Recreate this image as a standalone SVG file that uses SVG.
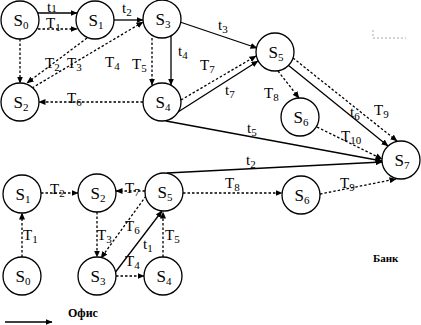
<svg xmlns="http://www.w3.org/2000/svg" width="421" height="325" viewBox="0 0 421 325">
<defs>
<marker id="ah" markerUnits="userSpaceOnUse" markerWidth="7" markerHeight="6" refX="6.5" refY="3" orient="auto">
<path d="M0,0 L7,3 L0,6 Z" fill="#000"/>
</marker>
</defs>
<style>
.n circle{fill:#fff;stroke:#000;stroke-width:1.3}
.n text{font-family:"Liberation Serif","Times New Roman",serif;font-size:17px;text-anchor:middle;fill:#000}
.sub{font-size:11px}
.s{fill:none;stroke:#000;stroke-width:1.3;marker-end:url(#ah)}
.d{fill:none;stroke:#000;stroke-width:1.3;stroke-dasharray:2.5,2;marker-end:url(#ah)}
.lb{font-family:"Liberation Serif","Times New Roman",serif;font-size:15px;fill:#000}
.lg{font-family:"Liberation Serif","Times New Roman",serif;font-weight:bold;fill:#000}
</style>
<rect width="421" height="325" fill="#fff"/>
<g id="connectors">
<line class="s" x1="37" y1="13" x2="77" y2="13"/>
<line class="d" x1="38" y1="29" x2="77" y2="29"/>
<line class="s" x1="114" y1="20" x2="143" y2="20"/>
<line class="d" x1="20" y1="39" x2="20" y2="83"/>
<line class="d" x1="87" y1="38" x2="27" y2="83"/>
<line class="d" x1="32" y1="88" x2="143" y2="22"/>
<line class="d" x1="152" y1="38" x2="152" y2="85"/>
<line class="s" x1="171" y1="36" x2="171" y2="85"/>
<line class="d" x1="143" y1="102" x2="39" y2="102"/>
<line class="s" x1="180" y1="22" x2="257" y2="48"/>
<line class="d" x1="181" y1="100" x2="256" y2="56"/>
<line class="s" x1="178" y1="112" x2="258" y2="61"/>
<line class="s" x1="166" y1="121" x2="382" y2="161"/>
<line class="d" x1="278" y1="71" x2="299" y2="98"/>
<line class="s" x1="288" y1="65" x2="388" y2="146"/>
<line class="d" x1="293" y1="58" x2="397" y2="141"/>
<line class="d" x1="317" y1="127" x2="382" y2="159"/>
<line class="s" x1="167" y1="173" x2="382" y2="162"/>
<line class="d" x1="41" y1="193" x2="78" y2="193"/>
<line class="d" x1="145" y1="191" x2="116" y2="191"/>
<line class="d" x1="183" y1="193" x2="282" y2="193"/>
<line class="d" x1="320" y1="194" x2="396" y2="179"/>
<line class="d" x1="22" y1="257" x2="22" y2="213"/>
<line class="d" x1="97" y1="212" x2="97" y2="257"/>
<line class="d" x1="146" y1="196" x2="101" y2="258"/>
<line class="s" x1="114" y1="274" x2="162" y2="211"/>
<line class="d" x1="116" y1="276" x2="144" y2="276"/>
<line class="d" x1="163" y1="257" x2="163" y2="212"/>
</g>
<g id="edge-labels">
<text class="lb" x="47" y="12" font-size="13">t<tspan class="sub" font-size="10" dy="0">1</tspan></text>
<text class="lb" x="46" y="28">T<tspan class="sub" dy="3">1</tspan></text>
<text class="lb" x="122" y="13">t<tspan class="sub" dy="3">2</tspan></text>
<text class="lb" x="45" y="68">T<tspan class="sub" dy="3">2</tspan></text>
<text class="lb" x="67" y="68">T<tspan class="sub" dy="3">3</tspan></text>
<text class="lb" x="105" y="67">T<tspan class="sub" dy="3">4</tspan></text>
<text class="lb" x="132" y="69">T<tspan class="sub" dy="3">5</tspan></text>
<text class="lb" x="178" y="56">t<tspan class="sub" dy="3">4</tspan></text>
<text class="lb" x="67" y="103">T<tspan class="sub" dy="3">6</tspan></text>
<text class="lb" x="218" y="30">t<tspan class="sub" dy="3">3</tspan></text>
<text class="lb" x="200" y="70">T<tspan class="sub" dy="3">7</tspan></text>
<text class="lb" x="225" y="95">t<tspan class="sub" dy="3">7</tspan></text>
<text class="lb" x="264" y="98">T<tspan class="sub" dy="3">8</tspan></text>
<text class="lb" x="350" y="117">t<tspan class="sub" dy="3">6</tspan></text>
<text class="lb" x="374" y="115">T<tspan class="sub" dy="3">9</tspan></text>
<text class="lb" x="341" y="141">T<tspan class="sub" dy="3">10</tspan></text>
<text class="lb" x="247" y="133">t<tspan class="sub" dy="3">5</tspan></text>
<text class="lb" x="246" y="165">t<tspan class="sub" dy="3">2</tspan></text>
<text class="lb" x="50" y="194">T<tspan class="sub" dy="3">2</tspan></text>
<text class="lb" x="125" y="193">T<tspan class="sub" dy="3">7</tspan></text>
<text class="lb" x="225" y="188">T<tspan class="sub" dy="3">8</tspan></text>
<text class="lb" x="340" y="188">T<tspan class="sub" dy="3">9</tspan></text>
<text class="lb" x="23" y="240">T<tspan class="sub" dy="3">1</tspan></text>
<text class="lb" x="97" y="240">T<tspan class="sub" dy="3">3</tspan></text>
<text class="lb" x="125" y="231">T<tspan class="sub" dy="3">6</tspan></text>
<text class="lb" x="143" y="249">t<tspan class="sub" dy="3">1</tspan></text>
<text class="lb" x="125" y="266">T<tspan class="sub" dy="3">4</tspan></text>
<text class="lb" x="165" y="240">T<tspan class="sub" dy="3">5</tspan></text>
</g>
<g id="top-S0" class="n"><circle cx="20" cy="20" r="19"/><text x="21" y="26">S<tspan class="sub" dy="3">0</tspan></text></g>
<g id="top-S1" class="n"><circle cx="95" cy="20" r="19"/><text x="96" y="26">S<tspan class="sub" dy="3">1</tspan></text></g>
<g id="top-S3" class="n"><circle cx="162" cy="19" r="19"/><text x="163" y="25">S<tspan class="sub" dy="3">3</tspan></text></g>
<g id="top-S2" class="n"><circle cx="20" cy="102" r="19"/><text x="21" y="108">S<tspan class="sub" dy="3">2</tspan></text></g>
<g id="top-S4" class="n"><circle cx="162" cy="102" r="19"/><text x="163" y="108">S<tspan class="sub" dy="3">4</tspan></text></g>
<g id="top-S5" class="n"><circle cx="275" cy="52" r="19"/><text x="276" y="58">S<tspan class="sub" dy="3">5</tspan></text></g>
<g id="top-S6" class="n"><circle cx="300" cy="117" r="19"/><text x="301" y="123">S<tspan class="sub" dy="3">6</tspan></text></g>
<g id="S7" class="n"><circle cx="401" cy="160" r="19"/><text x="402" y="166">S<tspan class="sub" dy="3">7</tspan></text></g>
<g id="bot-S1" class="n"><circle cx="22" cy="194" r="19"/><text x="23" y="200">S<tspan class="sub" dy="3">1</tspan></text></g>
<g id="bot-S2" class="n"><circle cx="97" cy="193" r="19"/><text x="98" y="199">S<tspan class="sub" dy="3">2</tspan></text></g>
<g id="bot-S5" class="n"><circle cx="164" cy="192" r="19"/><text x="165" y="198">S<tspan class="sub" dy="3">5</tspan></text></g>
<g id="bot-S6" class="n"><circle cx="301" cy="195" r="19"/><text x="302" y="201">S<tspan class="sub" dy="3">6</tspan></text></g>
<g id="bot-S0" class="n"><circle cx="22" cy="276" r="19"/><text x="23" y="282">S<tspan class="sub" dy="3">0</tspan></text></g>
<g id="bot-S3" class="n"><circle cx="97" cy="276" r="19"/><text x="98" y="282">S<tspan class="sub" dy="3">3</tspan></text></g>
<g id="bot-S4" class="n"><circle cx="163" cy="276" r="19"/><text x="164" y="282">S<tspan class="sub" dy="3">4</tspan></text></g>
<g id="legend">
<line class="s" x1="5" y1="322" x2="52" y2="322"/>
<text class="lg" x="68" y="317" font-size="12">Офис</text>
<text class="lg" x="373" y="262" font-size="11">Банк</text>
<path d="M373,30 V38 M373,38 H406" stroke="#aaa" stroke-width="1" stroke-dasharray="2,2" fill="none"/>
</g>
</svg>
